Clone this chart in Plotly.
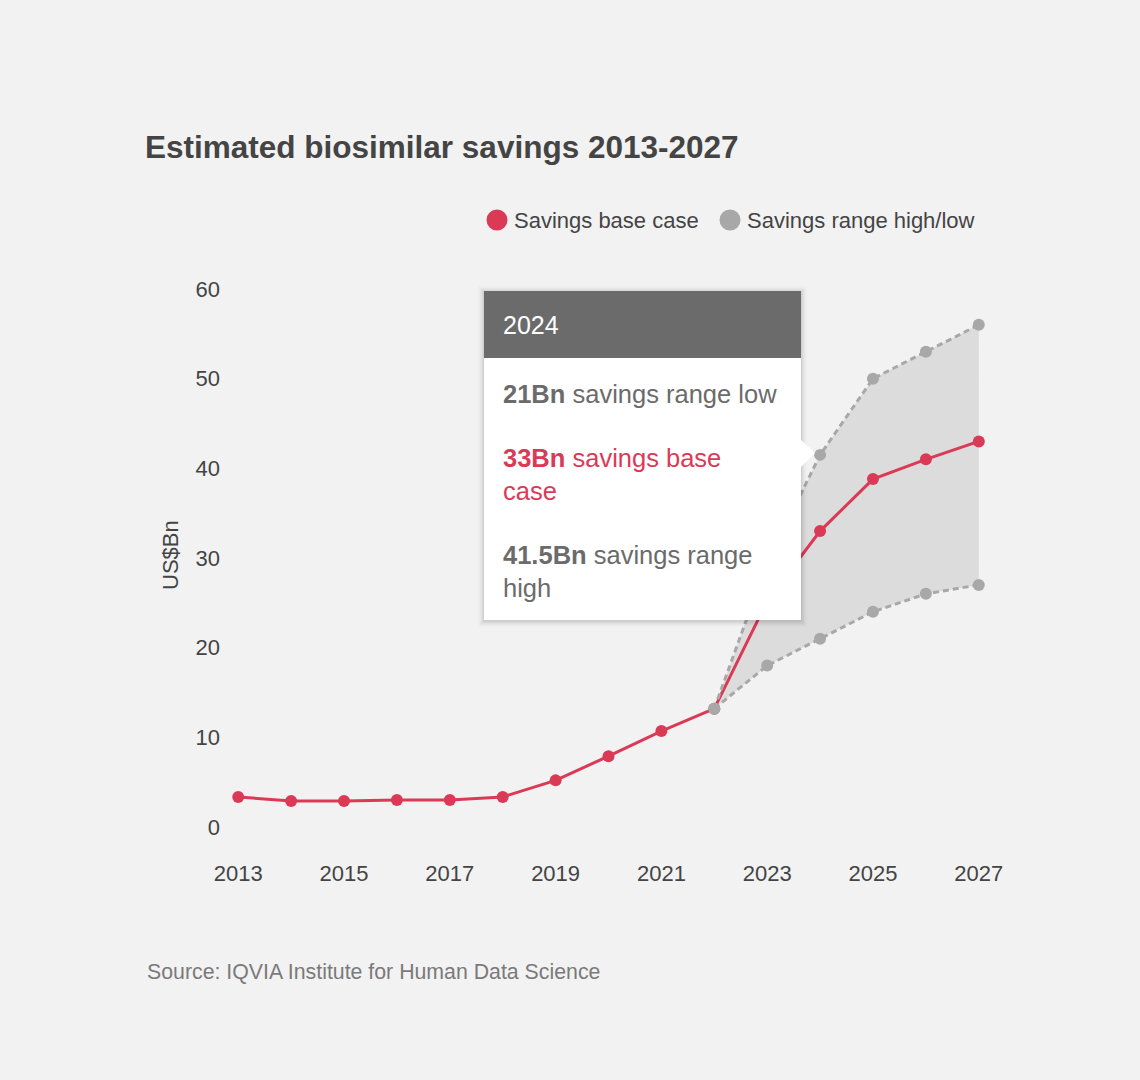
import plotly.graph_objects as go

# ---- data ----
years = [2013, 2014, 2015, 2016, 2017, 2018, 2019, 2020, 2021, 2022, 2023, 2024, 2025, 2026, 2027]
base_case = [3.35, 2.9, 2.9, 3.0, 3.0, 3.35, 5.2, 7.9, 10.7, 13.2, 25.2, 33.0, 38.8, 41.0, 43.0]
range_years = [2022, 2023, 2024, 2025, 2026, 2027]
range_high = [13.2, 29.5, 41.5, 50.0, 53.0, 56.0]
range_low = [13.2, 18.0, 21.0, 24.0, 26.0, 27.0]
x_ticks = [2013, 2015, 2017, 2019, 2021, 2023, 2025, 2027]
y_ticks = [0, 10, 20, 30, 40, 50, 60]

tooltip_year = "2024"
tooltip_lines = [
    ("21Bn", "savings range low"),
    ("33Bn", "savings base<br>case"),
    ("41.5Bn", "savings range<br>high"),
]

# ---- styles ----
FONT = "Liberation Sans, Arial, Helvetica, sans-serif"
RED = "#db3a57"
GREY = "#a8a8a8"
FILL = "#dcdcdc"
BG = "#f2f2f2"
TXT = "#444444"

W, H = 1140, 1080
ML, MR, MT, MB = 225, 148, 275, 222
PW, PH = W - ML - MR, H - MT - MB
PB = H - MB


def px(x):
    return (x - ML) / PW


def py(y):
    return (PB - y) / PH


fig = go.Figure()

# shaded range
fig.add_trace(go.Scatter(
    x=range_years + range_years[::-1],
    y=range_high + range_low[::-1],
    fill="toself", fillcolor=FILL, mode="none", hoverinfo="skip", showlegend=False,
))
# base case
fig.add_trace(go.Scatter(
    x=years, y=base_case, mode="lines+markers", name="Savings base case",
    line=dict(color=RED, width=3), marker=dict(color=RED, size=12),
    cliponaxis=False, showlegend=False,
))
# high / low
for yy, nm in [(range_high, "Savings range high"), (range_low, "Savings range low")]:
    fig.add_trace(go.Scatter(
        x=range_years, y=yy, mode="lines+markers", name=nm,
        line=dict(color=GREY, width=3, dash="6px,4px"), marker=dict(color=GREY, size=12),
        cliponaxis=False, showlegend=False,
    ))

shapes = []
annotations = []

# legend (manual)
for cx, col, label in [(497, RED, "Savings base case"), (730, GREY, "Savings range high/low")]:
    shapes.append(dict(type="circle", xref="paper", yref="paper", xsizemode="pixel", ysizemode="pixel",
                       xanchor=px(cx), yanchor=py(220), x0=-10.5, x1=10.5, y0=-10.5, y1=10.5,
                       fillcolor=col, line=dict(width=0)))
    annotations.append(dict(text=label, xref="paper", yref="paper", x=px(cx + 15), y=py(220),
                            xanchor="left", yanchor="middle", showarrow=False,
                            font=dict(family=FONT, size=22, color=TXT)))

# tooltip box
bx0, bx1, by0, by1 = 484, 801, 291, 620
for i, op in enumerate([0.04, 0.032, 0.025, 0.018, 0.012, 0.008, 0.005]):
    d = i + 1
    shapes.append(dict(type="rect", xref="paper", yref="paper",
                       x0=px(bx0 - d), x1=px(bx1 + d), y0=py(by1 + d + 1), y1=py(by0 - d + 1),
                       fillcolor=f"rgba(0,0,0,{op})", line=dict(width=0)))
shapes.append(dict(type="path", xref="paper", yref="paper",
                   path=f"M {px(800)} {py(439)} L {px(815)} {py(453)} L {px(800)} {py(468)} Z",
                   fillcolor="white", line=dict(width=0)))
shapes.append(dict(type="rect", xref="paper", yref="paper",
                   x0=px(bx0), x1=px(bx1), y0=py(by1), y1=py(by0),
                   fillcolor="white", line=dict(width=0)))
shapes.append(dict(type="rect", xref="paper", yref="paper",
                   x0=px(bx0), x1=px(bx1), y0=py(358), y1=py(by0),
                   fillcolor="#6b6b6b", line=dict(width=0)))
annotations.append(dict(text=tooltip_year, xref="paper", yref="paper", x=px(501), y=py(325),
                        xanchor="left", yanchor="middle", showarrow=False,
                        font=dict(family=FONT, size=25, color="white")))
for (num, desc), ycen, col in zip(tooltip_lines, [394, 474, 571], ["#6b6b6b", RED, "#6b6b6b"]):
    annotations.append(dict(text=f"<b>{num}</b> {desc}", xref="paper", yref="paper",
                            x=px(501), y=py(ycen), xanchor="left", yanchor="middle", align="left",
                            showarrow=False, font=dict(family=FONT, size=25.5, color=col)))

# y axis title
annotations.append(dict(text="US$Bn", xref="paper", yref="paper", x=px(170), y=py(555),
                        xanchor="center", yanchor="middle", textangle=-90, showarrow=False,
                        font=dict(family=FONT, size=22, color=TXT)))
# source
annotations.append(dict(text="Source: IQVIA Institute for Human Data Science", xref="paper", yref="paper",
                        x=px(145), y=py(972), xanchor="left", yanchor="middle", showarrow=False,
                        font=dict(family=FONT, size=21.3, color="#7a7a7a")))

fig.update_layout(
    width=W, height=H,
    margin=dict(l=ML, r=MR, t=MT, b=MB),
    paper_bgcolor=BG, plot_bgcolor=BG,
    font=dict(family=FONT, color=TXT),
    title=dict(text="<b>Estimated biosimilar savings 2013-2027</b>", xref="container", yref="container",
               x=145 / W, xanchor="left", y=1 - 147 / H, yanchor="middle",
               font=dict(family=FONT, size=31.5, color=TXT)),
    xaxis=dict(range=[2012.75, 2027.25], tickvals=x_ticks, ticktext=[str(v) for v in x_ticks],
               showgrid=False, zeroline=False, showline=False, ticks="",
               tickfont=dict(family=FONT, size=22, color=TXT)),
    yaxis=dict(range=[-3.457, 61.56], tickvals=y_ticks, showgrid=False, zeroline=False, showline=False,
               ticks="", ticklabelstandoff=4, tickfont=dict(family=FONT, size=22, color=TXT)),
    shapes=shapes, annotations=annotations, hovermode=False,
)

fig.write_html("out.html", config={"displayModeBar": False},
               post_script="document.body.style.margin='0px';document.body.style.background='#f2f2f2';")
